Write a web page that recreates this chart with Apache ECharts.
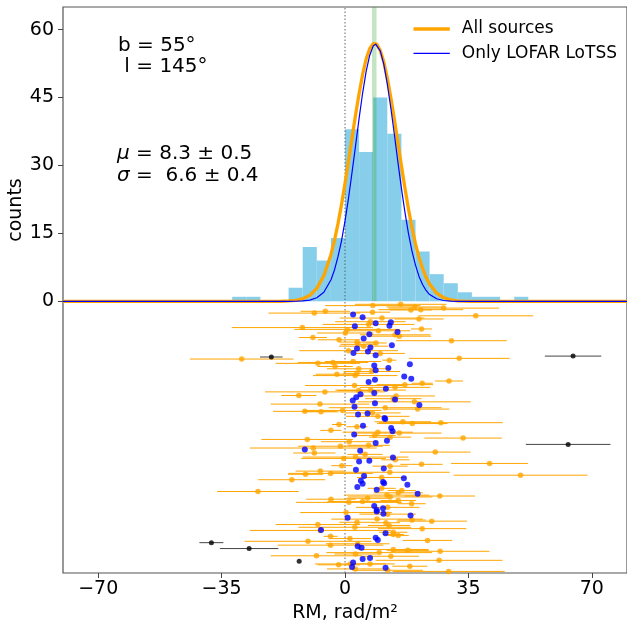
<!DOCTYPE html>
<html>
<head>
<meta charset="utf-8">
<script src="https://cdn.jsdelivr.net/npm/echarts@6/dist/echarts.min.js"></script>
<style>html,body{margin:0;padding:0;background:#fff}#c{width:627px;height:630px}</style>
</head>
<body>
<div id="c"></div>
<script>
// ---- data ----
const binLeft = [-32,-28,-16,-12,-8,-4,0,4,8,12,16,20,24,28,32,36,40,48];
const binWidth = 4;
const binCounts = [1,1,3,12,9,14,38,33,45,37,18,11,6,4,2,1,1,1];
const meanRM = 8.3;

const fitAllX = [-80,-20,-18,-16,-14,-12,-10,-8,-6,-4,-3,-2,-1,0,1,2,3,4,5,6,7,8,8.4,9,10,11,12,13,14,15,16,17,18,19,20,21,22,23,24,26,28,30,32,34,36,80];
const fitAllY = [0,0,0.02,0.08,0.21,0.55,1.31,2.85,5.66,10.3,13.4,17.1,21.3,26.0,31.0,36.1,41.2,45.9,50.1,53.5,55.8,56.9,57.0,56.8,55.4,52.9,49.3,45.0,40.2,35.1,30.0,25.0,20.4,16.3,12.7,9.7,7.3,5.3,3.8,1.8,0.79,0.32,0.12,0.04,0,0];
const fitLofarX = [-80,-16,-14,-12,-10,-8,-6,-4,-3,-2,-1,0,1,2,3,4,5,6,7,8,8.7,9,10,11,12,13,14,15,16,17,18,19,20,21,22,23,24,26,28,30,32,80];
const fitLofarY = [0,0,0.02,0.08,0.26,0.78,2.0,4.7,6.9,9.8,13.3,17.7,22.8,28.5,34.4,40.4,46.0,50.8,54.3,56.4,56.8,56.7,55.3,52.4,48.0,42.7,36.9,30.8,25.0,19.7,15.0,11.1,8.0,5.5,3.7,2.4,1.5,0.57,0.18,0.05,0,0];

// [RM, vertical position, RM error]
const allSources = [
[7.9,-0.95,13.5],[15.8,-0.66,13],[19.8,-1.25,8],[21.5,-1.84,12],[28.0,-1.5,15.7],[18.7,-1.9,6],
[-8.7,-2.6,13],[-5.6,-2.2,7],[7.8,-2.4,5],[37.1,-3.2,16.3],[10.5,-3.7,12],[21.0,-3.9,7],
[7.2,-4.5,10],[6.7,-5.1,13],[-12.1,-5.8,20],[0.6,-6.2,15],[0.1,-7.0,8],[9.5,-6.5,9],
[21.7,-6.1,3],[14.2,-7.4,10],[15.4,-7.7,9],[-9.1,-8.0,4],[-1.7,-8.5,6],[30.2,-8.7,15.7],
[3.4,-9.0,5],[8.8,-9.2,3],[3.7,-9.5,5],[5.3,-9.9,7],[1.0,-10.9,14],[10.0,-11.5,7],
[-29.3,-12.75,14.7],[32.4,-12.6,14.3],[-7.7,-13.7,12],[-3.4,-13.5,10],[2.3,-13.3,8],[12.6,-13.0,2],
[-2.8,-14.4,5],[3.9,-14.9,9],[7.6,-15.5,8],[-2.3,-16.1,6],[2.9,-16.4,12],[3.4,-15.9,4],
[29.5,-17.6,4],[21.9,-18.1,3],[17.0,-18.4,8],[14.2,-19.0,10],[2.7,-18.6,14],[7.3,-19.6,10],
[3.9,-19.7,6],[-5.7,-20.0,17],[-13.1,-20.8,5],[14.5,-20.9,11],[13.7,-21.5,8],[19.7,-22.2,16],
[-7.1,-22.7,14],[11.4,-23.5,16],
[20.6,-23.8,9],[-11.4,-24.3,9],[-6.8,-24.4,5],[-0.7,-24.1,11],[7.8,-24.65,8],[9.3,-25.4,9],
[16.4,-26.6,8],[19.1,-27.0,10],[27.2,-26.8,17.6],[-1.7,-27.2,2],[3.4,-27.7,3],[-4.0,-28.5,3],
[9.3,-28.9,10],[15.4,-29.1,12],[8.4,-29.65,6],[12.8,-30.0,6],[33.5,-30.2,11],[-10.7,-30.5,13],
[1.2,-31.0,8],[6.7,-31.8,6],[-1.3,-32.0,12],[-9.0,-32.4,18],[-8.7,-33.5,6],[5.7,-33.8,5],
[25.6,-33.3,10],[3.0,-34.4,15],[14.3,-35.0,4],[-0.4,-34.7,12],
[41.0,-35.8,10.9],[21.7,-36.0,6],[-0.9,-36.3,3],[12.8,-36.4,5],[-7.0,-37.5,7],[-4.1,-38.0,12],
[-11.2,-38.2,5],[12.7,-37.75,17],[49.8,-38.4,19],[10.4,-38.9,7],[-15.1,-39.4,9.5],[10.4,-41.3,4],
[-24.7,-42.0,11.6],[16.1,-41.8,4],[15.1,-42.3,7],[11.9,-42.8,12],[12.8,-43.2,12],[26.9,-43.0,10],
[6.4,-43.5,6],[-4.0,-43.7,7],[1.1,-44.4,15],[5.0,-44.2,10],[15.1,-44.0,5],[18.9,-44.7,4],
[12.1,-45.5,9],[0.3,-46.65,13],[12.1,-47.0,8],
[9.1,-48.1,13],[3.4,-48.8,5],[11.6,-48.9,4],[19.0,-48.3,4],[24.6,-48.55,10],[12.5,-49.5,6],
[-7.7,-49.3,12],[2.8,-49.9,16],[21.9,-50.2,12.5],[-7.0,-50.6,20],[13.7,-51.0,4],[13.7,-51.5,3],
[15.1,-51.7,3],[-4.1,-51.9,2],[1.4,-52.4,6],[23.4,-52.8,7],[-10.5,-53.0,18],[-4.1,-53.85,15],
[3.6,-53.55,9],[13.7,-54.8,10],[17.8,-55.0,6],[27.0,-55.2,14],[9.7,-55.5,15],[-8.1,-56.2,13],
[3.0,-55.8,6],[13.0,-56.3,8],[26.7,-57.2,18],[7.1,-58.0,7],[-1.8,-58.2,6],[18.4,-58.5,5],
[1.5,-58.0,10],[2.9,-59.1,8],[12.1,-59.4,10],[29.4,-59.65,15.9]
];
// [RM, vertical position]
const lofarSources = [
[2.3,-2.9],[5.0,-3.5],[8.7,-4.85],[13.0,-4.6],[12.6,-5.4],[2.8,-5.5],[14.9,-6.8],[6.9,-7.3],[5.3,-8.2],
[13.3,-9.7],[7.2,-10.2],[3.4,-10.4],[6.5,-11.1],[2.4,-11.4],
[8.7,-11.9],[8.3,-14.2],[8.7,-15.2],[12.3,-14.7],[18.4,-13.9],[16.8,-16.6],[18.8,-17.1],[8.5,-17.3],
[6.7,-17.8],[11.6,-19.3],[8.3,-20.25],[4.4,-20.5],[3.2,-21.2],[2.2,-21.9],[14.2,-21.7],[21.1,-22.9],
[8.5,-22.5],[2.7,-23.3],
[3.7,-25.0],[6.4,-24.8],[11.2,-25.75],[11.4,-26.0],[5.1,-27.5],[13.1,-28.0],[13.5,-28.7],[2.6,-29.4],
[11.9,-30.8],[8.7,-31.3],[-11.4,-32.7],[4.3,-33.0],[13.6,-34.5],[4.0,-35.4],[6.9,-35.2],
[11.0,-36.9],[3.1,-37.2],[5.4,-38.6],[16.7,-39.1],[4.5,-39.6],[10.8,-39.9],[11.1,-40.2],[5.0,-40.3],
[3.5,-41.0],[17.7,-40.5],[9.0,-41.6],[20.6,-42.5],[8.3,-45.2],[10.8,-45.7],[9.0,-46.1],[9.0,-46.4],
[10.9,-46.9],[18.6,-47.3],
[0.75,-47.8],[-6.8,-50.5],[11.5,-51.2],[8.7,-52.2],[9.3,-52.7],[3.6,-54.1],[4.7,-54.4],[5.0,-56.9],
[7.1,-56.7],[2.3,-57.7],[2.0,-58.7],[11.5,-58.85]
];
// excluded outliers [RM, vertical position, RM error]
const outliers = [[-20.9,-12.3,3.2],[64.7,-12.1,8.0],[63.3,-31.6,12],[-37.9,-53.3,3.4],[-27.2,-54.6,8.3],[-13.0,-57.4,0]];

const xTickValues = [-70,-35,0,35,70];
const xTickLabels = ['\u221270','\u221235','0','35','70'];
const yTickValues = [0,15,30,45,60];
const yTickLabels = ['0','15','30','45','60'];
const legendNames = ['All sources','Only LOFAR LoTSS'];

// ---- chart ----
const FONT = 'DejaVu Sans';
const ORANGE = '#ffa500', BLUE = '#0000ff';
const chart = echarts.init(document.getElementById('c'), null, {renderer:'canvas'});

function errRender(color){
  return function(params, api){
    const x = api.value(0), y = api.value(1), e = api.value(2);
    const a = api.coord([x - e, y]), b = api.coord([x + e, y]);
    return {type:'line', shape:{x1:a[0], y1:a[1], x2:b[0], y2:b[1]}, style:{stroke:color, lineWidth:1}};
  };
}

const option = {
  animation:false,
  backgroundColor:'#fff',
  grid:{left:63, top:7, width:567, height:566, show:true, borderColor:'#555', borderWidth:1.2, backgroundColor:'transparent'},
  xAxis:{
    type:'value', min:-80, max:80,
    axisLine:{show:false, onZero:false},
    splitLine:{show:false},
    axisTick:{show:true, length:5, customValues:xTickValues, lineStyle:{color:'#444', width:1}},
    axisLabel:{customValues:xTickValues, margin:7, fontSize:19, fontFamily:FONT, color:'#000',
      formatter:function(v){ const i = xTickValues.indexOf(v); return i>=0 ? xTickLabels[i] : ''; }},
    name:'RM, rad/m\u00b2', nameLocation:'middle', nameGap:30,
    nameTextStyle:{fontSize:19, fontFamily:FONT, color:'#000'}
  },
  yAxis:{
    type:'value', min:-60, max:65,
    axisLine:{show:false, onZero:false},
    splitLine:{show:false},
    axisTick:{show:true, length:5, customValues:yTickValues, lineStyle:{color:'#444', width:1}},
    axisLabel:{customValues:yTickValues, margin:9, fontSize:19, fontFamily:FONT, color:'#000',
      formatter:function(v){ const i = yTickValues.indexOf(v); return i>=0 ? yTickLabels[i] : ''; }}
  },
  graphic:[
    {type:'text', x:16, y:210, rotation:Math.PI/2, style:{text:'counts', fontSize:19, fontFamily:FONT, fill:'#000', align:'center', verticalAlign:'middle'}},
    {type:'text', x:118, y:45.4, style:{text:'b = 55\u00b0', fontSize:20, fontFamily:FONT, fill:'#000', verticalAlign:'middle'}},
    {type:'text', x:118, y:67.1, style:{text:' l = 145\u00b0', fontSize:20, fontFamily:FONT, fill:'#000', verticalAlign:'middle'}},
    {type:'text', x:117, y:153.6, style:{text:'{i|\u03bc} = 8.3 \u00b1 0.5', fontSize:20, fontFamily:FONT, fill:'#000', verticalAlign:'middle',
      rich:{i:{fontStyle:'italic', fontSize:20, fontFamily:FONT, fill:'#000'}}}},
    {type:'text', x:117, y:175.6, style:{text:'{i|\u03c3} =  6.6 \u00b1 0.4', fontSize:20, fontFamily:FONT, fill:'#000', verticalAlign:'middle',
      rich:{i:{fontStyle:'italic', fontSize:20, fontFamily:FONT, fill:'#000'}}}},
    // legend
    {type:'line', shape:{x1:413.5, y1:29, x2:449.8, y2:29}, style:{stroke:ORANGE, lineWidth:3.3}, z:100},
    {type:'line', shape:{x1:413.5, y1:53.3, x2:449.8, y2:53.3}, style:{stroke:BLUE, lineWidth:1.2}, z:100},
    {type:'text', x:461.8, y:29, style:{text:legendNames[0], fontSize:17, fontFamily:FONT, fill:'#000', verticalAlign:'middle'}, z:100},
    {type:'text', x:461.8, y:53.3, style:{text:legendNames[1], fontSize:17, fontFamily:FONT, fill:'#000', verticalAlign:'middle'}, z:100}
  ],
  series:[
    {
      type:'custom', name:'hist', z:1, silent:true,
      data: binLeft.map((l,i)=>[l, l+binWidth, binCounts[i]]),
      encode:{x:[0,1], y:2},
      renderItem:function(params, api){
        const p0 = api.coord([api.value(0), api.value(2)]);
        const p1 = api.coord([api.value(1), 0]);
        return {type:'rect', shape:{x:p0[0], y:p0[1], width:p1[0]-p0[0], height:p1[1]-p0[1]}, style:{fill:'#87ceeb'}};
      }
    },
    {
      type:'custom', name:'mean', z:2, silent:true,
      data:[[meanRM]],
      encode:{x:0},
      renderItem:function(params, api){
        const a = api.coord([api.value(0), 0]), b = api.coord([api.value(0), 65]);
        return {type:'line', shape:{x1:a[0], y1:a[1], x2:b[0], y2:b[1]}, style:{stroke:'rgba(44,160,44,0.28)', lineWidth:4.5}};
      }
    },
    {
      type:'line', name:'zero', z:3, silent:true, symbol:'none',
      data:[[0,-60],[0,65]],
      lineStyle:{color:'#555', width:0.9, type:[1.5,2]}
    },
    {
      type:'custom', name:'errAll', z:4, silent:true,
      data: allSources, encode:{x:0, y:1},
      renderItem: errRender(ORANGE)
    },
    {
      type:'scatter', name:'ptsAll', z:5, silent:true,
      data: allSources.map(d=>[d[0], d[1]]),
      symbolSize:5.5, itemStyle:{color:ORANGE}
    },
    {
      type:'custom', name:'errOut', z:6, silent:true,
      data: outliers, encode:{x:0, y:1},
      renderItem: errRender('#444')
    },
    {
      type:'scatter', name:'ptsOut', z:7, silent:true,
      data: outliers.map(d=>[d[0], d[1]]),
      symbolSize:5, itemStyle:{color:'#000'}
    },
    {
      type:'scatter', name:'ptsLofar', z:8, silent:true,
      data: lofarSources,
      symbolSize:6, itemStyle:{color:BLUE}
    },
    {
      type:'line', name:legendNames[0], z:9, symbol:'none', showSymbol:false, smooth:false, silent:true,
      data: fitAllX.map((x,i)=>[x, fitAllY[i]]),
      lineStyle:{color:ORANGE, width:3.3, join:'round'}, itemStyle:{color:ORANGE}
    },
    {
      type:'line', name:legendNames[1], z:10, symbol:'none', showSymbol:false, smooth:false, silent:true,
      data: fitLofarX.map((x,i)=>[x, fitLofarY[i]]),
      lineStyle:{color:BLUE, width:1.2, join:'round'}, itemStyle:{color:BLUE}
    }
  ]
};
chart.setOption(option);
</script>
</body>
</html>
